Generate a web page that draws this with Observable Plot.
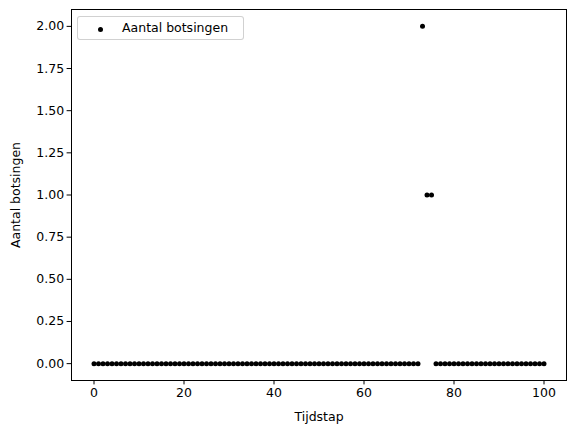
<!DOCTYPE html>
<html>
<head>
<meta charset="utf-8">
<script src="https://cdn.jsdelivr.net/npm/d3@7"></script>
<script src="https://cdn.jsdelivr.net/npm/@observablehq/plot@0.6"></script>
<style>
  html, body { margin: 0; padding: 0; background: #fff; }
  #wrap { position: relative; width: 576px; height: 432px; font-family: "DejaVu Sans", sans-serif; }
  #legend { position: absolute; left: 77px; top: 16px; width: 167px; height: 24px;
    border: 1px solid rgba(204,204,204,0.9); border-radius: 3px; background: rgba(255,255,255,0.8);
    font-size: 12.5px; color: #000; box-sizing: border-box; }
  #legend .dot { position: absolute; left: 19.5px; top: 10px; width: 5px; height: 5px; border-radius: 50%; background: #000; }
  #legend .txt { position: absolute; left: 44px; top: 3px; white-space: nowrap; }
</style>
</head>
<body>
<div id="wrap"></div>
<script>
const timesteps = [0,1,2,3,4,5,6,7,8,9,10,11,12,13,14,15,16,17,18,19,20,21,22,23,24,25,26,27,28,29,30,31,32,33,34,35,36,37,38,39,40,41,42,43,44,45,46,47,48,49,50,51,52,53,54,55,56,57,58,59,60,61,62,63,64,65,66,67,68,69,70,71,72,73,74,75,76,77,78,79,80,81,82,83,84,85,86,87,88,89,90,91,92,93,94,95,96,97,98,99,100];
const collisions = [0,0,0,0,0,0,0,0,0,0,0,0,0,0,0,0,0,0,0,0,0,0,0,0,0,0,0,0,0,0,0,0,0,0,0,0,0,0,0,0,0,0,0,0,0,0,0,0,0,0,0,0,0,0,0,0,0,0,0,0,0,0,0,0,0,0,0,0,0,0,0,0,0,2,1,1,0,0,0,0,0,0,0,0,0,0,0,0,0,0,0,0,0,0,0,0,0,0,0,0,0];
const xTicks = [0,20,40,60,80,100];
const yTicks = [0,0.25,0.5,0.75,1,1.25,1.5,1.75,2];
const seriesLabel = "Aantal botsingen";
const xLabel = "Tijdstap";
const yLabel = "Aantal botsingen";

const data = timesteps.map((t, i) => ({t, c: collisions[i]}));

const chart = Plot.plot({
  width: 576,
  height: 432,
  marginLeft: 71,
  marginRight: 10,
  marginTop: 9,
  marginBottom: 52,
  style: {fontFamily: "DejaVu Sans, sans-serif", fontSize: "12.5px", color: "#000", background: "#fff", overflow: "visible"},
  x: {domain: [-5, 105]},
  y: {domain: [-0.1, 2.1]},
  marks: [
    Plot.frame({stroke: "#000", strokeWidth: 1}),
    Plot.axisX({ticks: xTicks, tickSize: 4.4, tickPadding: 3, tickFormat: d3.format("d"),
      label: xLabel, labelAnchor: "center", labelArrow: "none", labelOffset: 40}),
    Plot.axisY({ticks: yTicks, tickSize: 4.4, tickPadding: 3, tickFormat: d3.format(".2f"),
      label: yLabel, labelAnchor: "center", labelArrow: "none", labelOffset: 60}),
    Plot.dot(data, {x: "t", y: "c", r: 2.5, fill: "#000", stroke: "none"})
  ]
});
const wrap = document.getElementById("wrap");
wrap.appendChild(chart);
const legend = document.createElement("div");
legend.id = "legend";
legend.innerHTML = `<div class="dot"></div><div class="txt"></div>`;
legend.querySelector(".txt").textContent = seriesLabel;
wrap.appendChild(legend);
</script>
</body>
</html>
